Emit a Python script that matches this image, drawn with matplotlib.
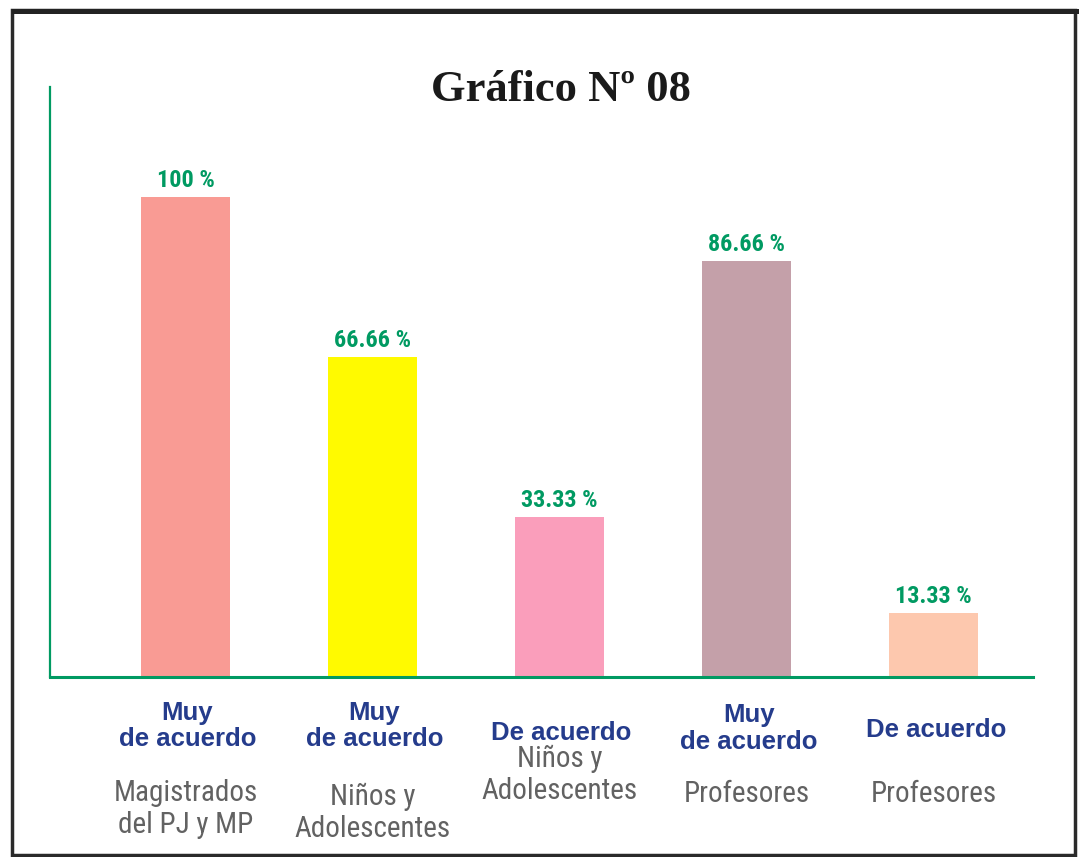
import matplotlib
matplotlib.use("Agg")
import matplotlib.pyplot as plt
from matplotlib.patches import Rectangle

# data
values = [100, 66.66, 33.33, 86.66, 13.33]
value_labels = ["100 %", "66.66 %", "33.33 %", "86.66 %", "13.33 %"]
answers = ["Muy\nde acuerdo", "Muy\nde acuerdo", "De acuerdo", "Muy\nde acuerdo", "De acuerdo"]
groups = ["Magistrados\ndel PJ y MP", "Niños y\nAdolescentes", "Niños y\nAdolescentes", "Profesores", "Profesores"]
colors = ["#F99B94", "#FFFA00", "#FA9EBB", "#C4A0A9", "#FDC8AE"]

green = "#009A62"
blue = "#253C8C"
gray = "#626262"
narrow = ["Roboto Condensed", "Archivo Narrow", "DejaVu Sans"]

fig = plt.figure(figsize=(10.79, 8.57), dpi=100)
W, H = 1079, 857

# outer frame
fig.patches.append(Rectangle((12 / W, 2 / H), 1063 / W, 845 / H, transform=fig.transFigure,
                             fill=False, edgecolor="#2a2a2a", linewidth=2.5))
fig.patches.append(Rectangle((12 / W, 843 / H), 1067 / W, 5 / H, transform=fig.transFigure,
                             facecolor="#222222", edgecolor="none"))

ax = fig.add_axes([50 / W, 1 - 677 / H, 983 / W, 590 / H])
x = list(range(len(values)))
ax.bar(x, values, width=0.476, color=colors)
ax.set_xlim(-0.725, 4.53)
ax.set_ylim(0, 123)

for s in ["top", "right"]:
    ax.spines[s].set_visible(False)
ax.spines["left"].set_color(green)
ax.spines["left"].set_linewidth(1.6)
ax.spines["bottom"].set_color(green)
ax.spines["bottom"].set_linewidth(2.2)
ax.set_xticks([])
ax.set_yticks([])

for i, v in enumerate(values):
    ax.annotate(value_labels[i], (i, v), xytext=(0, 4), textcoords="offset points",
                ha="center", va="bottom", color=green, fontsize=17.5,
                fontweight="bold", family=narrow)

# category labels under the axis (y in axes fraction)
ans_y = [-0.083, -0.083, -0.095, -0.088, -0.090]
grp_y = [-0.224, -0.230, -0.166, -0.199, -0.199]
for i in x:
    ax.text(i + 0.01, ans_y[i], answers[i], transform=ax.get_xaxis_transform(),
            ha="center", va="center", color=blue, fontsize=18.5, fontweight="bold",
            family="Liberation Sans", linespacing=1.15)
    ax.text(i, grp_y[i], groups[i], transform=ax.get_xaxis_transform(),
            ha="center", va="center", color=gray, fontsize=21, family=narrow,
            linespacing=1.2)

fig.text(561 / W, 1 - 90 / H, "Gráfico Nº 08", ha="center", va="center",
         fontsize=32, fontweight="bold", family="Liberation Serif", color="#1a1a1a")

fig.savefig("out.png", dpi=100)
